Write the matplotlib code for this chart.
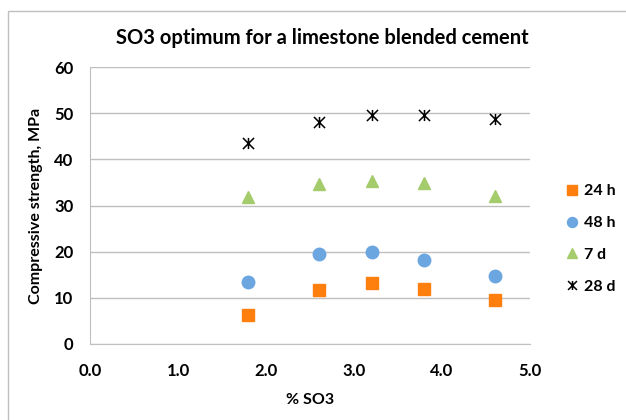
import matplotlib
matplotlib.use('Agg')
import matplotlib.pyplot as plt
from matplotlib.path import Path
from matplotlib.patches import Rectangle

plt.rcParams['font.family'] = ['Lato', 'DejaVu Sans']

# datos
so3 = [1.8, 2.6, 3.2, 3.8, 4.6]
h24 = [6.2, 11.7, 13.2, 11.9, 9.6]
h48 = [13.5, 19.5, 20.0, 18.2, 14.7]
d7 = [31.8, 34.6, 35.4, 34.9, 32.0]
d28 = [43.5, 48.0, 49.6, 49.6, 48.7]

series_labels = ['24 h', '48 h', '7 d', '28 d']
x_ticks = [0.0, 1.0, 2.0, 3.0, 4.0, 5.0]
y_ticks = [0, 10, 20, 30, 40, 50, 60]

# marcador tipo asterisco de Excel (X con linea vertical)
star = Path([(0, -1), (0, 1), (-1, -1), (1, 1), (-1, 1), (1, -1)],
            [Path.MOVETO, Path.LINETO, Path.MOVETO, Path.LINETO, Path.MOVETO, Path.LINETO])

fig = plt.figure(figsize=(6.26, 4.2), dpi=100)
ax = fig.add_axes([90/626, 1-344/420, 440/626, 277/420])

ax.plot(so3, h24, 's', color='#FF7F0E', markersize=8.5, label=series_labels[0], zorder=3)
ax.plot(so3, h48, 'o', color='#6CA6E0', markersize=9, label=series_labels[1], zorder=3)
ax.plot(so3, d7, '^', color='#A4CC6C', markersize=9, label=series_labels[2], zorder=3)
ax.plot(so3, d28, marker=star, linestyle='none', color='black', markeredgewidth=1.1,
        markersize=8, label=series_labels[3], zorder=3)

ax.set_xlim(0, 5)
ax.set_ylim(0, 60)
ax.set_xticks(x_ticks)
ax.set_xticklabels(['%.1f' % v for v in x_ticks])
ax.set_yticks(y_ticks)
ax.yaxis.grid(True, color='#BFBFBF', linewidth=1)
ax.set_axisbelow(True)
for s in ['top', 'right']:
    ax.spines[s].set_visible(False)
for s in ['left', 'bottom']:
    ax.spines[s].set_color('#BFBFBF')
ax.tick_params(length=0, labelsize=12)
ax.tick_params(axis='x', pad=14)
ax.tick_params(axis='y', pad=12)
for lbl in ax.get_xticklabels() + ax.get_yticklabels():
    lbl.set_fontweight('bold')

ax.set_xlabel('% SO3', fontsize=11.5, fontweight='bold', labelpad=10)
ax.set_ylabel('Compressive strength, MPa', fontsize=11.5, fontweight='bold', labelpad=8)
fig.text(322/626, 1-38/420, 'SO3 optimum for a limestone blended cement',
         ha='center', va='center', fontsize=14.5, fontweight='bold')

leg = fig.legend(loc='center left', bbox_to_anchor=(550/626, 1-239/420), frameon=False,
                 handlelength=0.9, handletextpad=0.3, labelspacing=1.1, markerscale=0.8,
                 prop={'size': 11.5, 'weight': 'bold'})

# marco exterior del grafico
fig.patches.append(Rectangle((8/626, -0.05), 1.1, 1 - 11/420 + 0.05, transform=fig.transFigure,
                             fill=False, edgecolor='#BFBFBF', linewidth=1))

fig.savefig('out.png', dpi=100)
